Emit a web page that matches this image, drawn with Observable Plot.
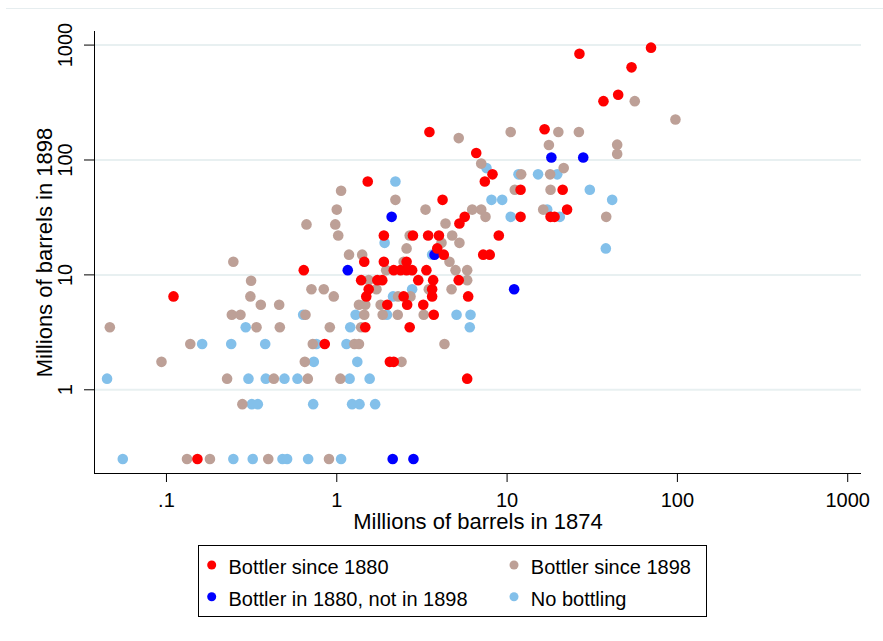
<!DOCTYPE html>
<html><head><meta charset="utf-8">
<script src="https://cdn.jsdelivr.net/npm/d3@7"></script>
<script src="https://cdn.jsdelivr.net/npm/@observablehq/plot@0.6"></script>
<style>
body{margin:0;background:#fff;}
#wrap{position:relative;width:883px;height:641px;overflow:hidden;font-family:"Liberation Sans",Arial,sans-serif;background:#fff;}
#topline{position:absolute;left:6px;top:8px;width:877px;height:1px;background:#e6edef;}
#chart{position:absolute;left:0;top:0;}
#legend{position:absolute;left:0;top:530px;}
</style></head><body>
<div id="wrap"><div id="topline"></div><div id="chart"></div><div id="legend"></div></div>
<script>
// ---- axis / labels ----
const xTicks = [0.1, 1, 10, 100, 1000];
const xTickLabels = [".1", "1", "10", "100", "1000"];
const yTicks = [1, 10, 100, 1000];
const yTickLabels = ["1", "10", "100", "1000"];
const xTitle = "Millions of barrels in 1874";
const yTitle = "Millions of barrels in 1898";
const xDomain = [0.0378, 1205];
const yDomain = [0.1868, 1313];

// ---- series: [barrels 1874, barrels 1898] in millions ----
const bottlerSince1880 = [
 [0.11,6.5],[0.152,0.25],[0.64,11],[1.52,65],[3.50,175],[6.59,115],[8.21,75],[7.40,65],[4.18,45],[12.0,55],
 [21.2,55],[5.64,32],[5.25,28],[12.0,32],[18.0,32],[19.0,32],[22.5,37],[16.6,185],[26.6,840],[70,950],
 [53.8,640],[44.9,370],[36.8,325],[8.94,22],[7.24,15],[7.91,15],[5.91,6.5],[5.20,9],[5.83,1.25],[3.89,17],
 [4.25,15],[3.98,22],[3.44,22],[2.80,22],[1.89,22],[1.45,13],[1.89,13],[2.57,13],[2.16,11],[2.37,11],
 [2.57,11],[2.77,11],[3.36,11],[1.39,9],[1.73,9],[1.85,9],[3.01,9],[3.68,9],[1.54,7.5],[3.63,7.5],
 [1.49,6.5],[2.47,6.5],[3.63,6.5],[1.98,5.5],[2.59,5.5],[3.22,5.5],[3.71,4.5],[1.47,3.5],[2.68,3.5],[0.85,2.5],
 [2.05,1.75],[2.16,1.75]
];
const bottlerIn1880Not1898 = [
 [2.10,32],[1.16,11],[3.75,15],[11,7.5],[18.2,105],[28,105],[2.13,0.25],[2.82,0.25]
];
const bottlerSince1898 = [
 [0.247,13],[0.314,8.9],[0.311,6.5],[0.358,5.5],[0.459,5.5],[0.242,4.5],[0.272,4.5],[0.0465,3.5],[0.338,3.5],[0.463,3.5],
 [0.138,2.5],[0.0935,1.75],[0.227,1.25],[0.427,1.25],[0.279,0.75],[0.132,0.25],[0.18,0.25],[0.396,0.25],[0.90,0.25],
 [0.655,4.5],[1.45,4.5],[1.86,4.5],[2.28,4.5],[3.24,4.5],[0.91,3.5],[1.39,3.5],[0.723,2.5],[1.27,2.5],[1.35,2.5],
 [0.649,1.75],[2.40,1.75],[0.676,1.25],[1.05,1.25],[4.29,2.5],
 [1.06,54],[2.21,45],[1.0,37],[3.32,37],[0.664,27.5],[0.98,27.5],[1.02,22],[2.68,22],[2.57,17],[1.18,15],[1.41,15],
 [2.47,13],[1.95,11],[1.54,9],[3.47,7.5],[0.71,7.5],[0.839,7.5],[1.71,7.5],[0.96,6.5],[2.29,6.5],[2.71,6.5],
 [1.35,5.5],[1.47,5.5],[1.81,5.5],
 [5.20,155],[7.05,93],[6.24,37],[7.05,37],
 [12.1,75],[17.9,75],[21.5,85],[11.1,55],[18.0,55],[7.47,32],[4.35,28],[16.3,37],[4.76,22],[4.12,19],[5.25,19],
 [4.59,13],[4.98,11],[5.83,11],[5.83,9],[4.72,7.5],
 [17.6,135],[44.3,136],[44.3,113],[38.2,32],[56.2,325],[97.4,225],[10.5,175],[20.0,175],[26.4,175]
];
const noBottling = [
 [0.292,3.5],[0.162,2.5],[0.24,2.5],[0.38,2.5],[0.0448,1.25],[0.303,1.25],[0.383,1.25],[0.493,1.25],[0.588,1.25],
 [0.317,0.75],[0.344,0.75],[0.0554,0.25],[0.247,0.25],[0.321,0.25],[0.48,0.25],[0.511,0.25],[0.679,0.25],[1.06,0.25],
 [0.635,4.5],[1.29,4.5],[1.97,4.5],[1.20,3.5],[0.76,2.5],[1.14,2.5],[0.733,1.75],[1.32,1.75],[1.19,1.25],[1.56,1.25],
 [0.727,0.75],[1.23,0.75],[1.36,0.75],[1.68,0.75],
 [5.05,4.5],[6.10,4.5],[6.04,3.5],
 [2.21,65],[1.91,19],[3.63,15],[2.77,7.5],[2.14,6.5],
 [7.57,85],[8.10,45],[9.36,45],[11.67,75],[15.2,75],[19.7,75],[30.6,55],[41.4,45],[17.2,37],[10.5,32],[20.4,32],[38.0,17]
];

const seriesNames = ["Bottler since 1880", "Bottler since 1898", "Bottler in 1880, not in 1898", "No bottling"];
const seriesColors = ["#ff0000", "#bda097", "#0000ff", "#83c0ea"];
const seriesData = [bottlerSince1880, bottlerSince1898, bottlerIn1880Not1898, noBottling];
const drawOrder = [3, 1, 2, 0];

const FONT = '"Liberation Sans", Arial, sans-serif';

const chart = Plot.plot({
  width: 883, height: 530,
  marginLeft: 94, marginRight: 22, marginTop: 31, marginBottom: 57,
  style: {fontFamily: FONT, background: "transparent", overflow: "visible"},
  x: {type: "log", domain: xDomain},
  y: {type: "log", domain: yDomain},
  marks: [
    Plot.ruleY(yTicks, {y: d => d, stroke: "#e8f0f1", strokeWidth: 2}),
    Plot.axisX({ticks: xTicks, tickFormat: d => xTickLabels[xTicks.indexOf(d)], tickSize: 9, tickPadding: 10, fontSize: 20, label: null, stroke: "#000", fill: "#000"}),
    Plot.axisY({ticks: yTicks, tickFormat: () => "", tickSize: 10, label: null, stroke: "#000"}),
    Plot.text(yTicks, {frameAnchor: "left", y: d => d, text: (d, i) => yTickLabels[i], rotate: -90, dx: -29, fontSize: 20, textAnchor: "middle", lineAnchor: "middle", fill: "#000"}),
    Plot.text([xTitle], {frameAnchor: "bottom", text: d => d, dy: 48, fontSize: 22, textAnchor: "middle", lineAnchor: "middle", fill: "#000"}),
    Plot.text([yTitle], {frameAnchor: "left", text: d => d, rotate: -90, dx: -50, fontSize: 22, textAnchor: "middle", lineAnchor: "middle", fill: "#000"}),
    Plot.ruleX([xDomain[0]], {x: d => d, stroke: "#000"}),
    Plot.ruleY([yDomain[0]], {y: d => d, stroke: "#000"}),
    ...drawOrder.map(k => Plot.dot(seriesData[k], {x: d => d[0], y: d => d[1], r: 5.3, fill: seriesColors[k], stroke: "none"}))
  ]
});
document.getElementById("chart").appendChild(chart);

// ---- legend (below the chart) ----
const L = d3.select("#legend").append("svg").attr("width", 883).attr("height", 111)
  .style("font-family", FONT);
L.append("rect").attr("x", 198.5).attr("y", 15.5).attr("width", 508).attr("height", 71)
  .attr("fill", "#fff").attr("stroke", "#000");
const legendCols = [211.7, 514];
const legendRows = [35, 66.7];
seriesNames.forEach((name, k) => {
  const col = k % 2, row = Math.floor(k / 2);
  const cx = legendCols[col], cy = legendRows[row];
  L.append("circle").attr("cx", cx).attr("cy", cy).attr("r", 4.5).attr("fill", seriesColors[k]);
  L.append("text").attr("x", cx + 16.8).attr("y", cy + 9.3).attr("font-size", 20).attr("fill", "#000").text(name);
});
</script>
</body></html>
